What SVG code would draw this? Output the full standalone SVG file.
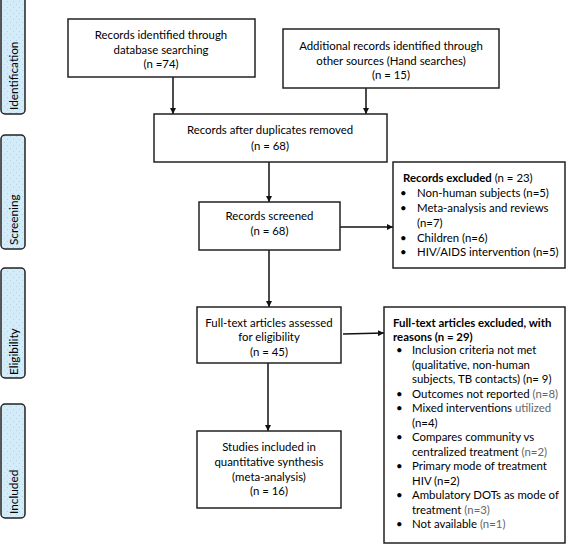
<svg xmlns="http://www.w3.org/2000/svg" width="567" height="547" viewBox="0 0 567 547">
<defs>
<style>
text{font-family:Lato,"Liberation Sans",sans-serif;font-size:11.4px;fill:#000}
.c{text-anchor:middle}
.b{font-weight:bold}
.g{fill:#666}
.box{fill:#fff;stroke:#222;stroke-width:1.5}
.tab{fill:url(#dots);stroke:#222;stroke-width:1.5}
.tt{font-size:11.8px}
.ln{stroke:#111;stroke-width:1.5;fill:none}
</style>
<pattern id="dots" width="6" height="6" patternUnits="userSpaceOnUse">
<rect width="6" height="6" fill="#d3ecfa"/>
<circle cx="1.5" cy="1.5" r="0.5" fill="#d9b8b8"/>
<circle cx="4.5" cy="4.5" r="0.5" fill="#b9c8d4"/>
</pattern>
<marker id="ah" viewBox="0 0 10 10" refX="10" refY="5" markerWidth="6" markerHeight="6" orient="auto" markerUnits="userSpaceOnUse">
<path d="M0,0 L10,5 L0,10 z" fill="#111"/>
</marker>
</defs>

<g id="tab-identification">
<rect class="tab" x="1" y="-6" width="24" height="120" rx="4"/>
<text class="tt" transform="translate(18,110) rotate(-90)">Identification</text>
</g>
<g id="tab-screening">
<rect class="tab" x="1" y="135" width="24" height="114" rx="4"/>
<text class="tt" transform="translate(18,245) rotate(-90)">Screening</text>
</g>
<g id="tab-eligibility">
<rect class="tab" x="1" y="268" width="24" height="110" rx="4"/>
<text class="tt" transform="translate(18,375) rotate(-90)">Eligibility</text>
</g>
<g id="tab-included">
<rect class="tab" x="1" y="404" width="24" height="114" rx="4"/>
<text class="tt" transform="translate(18,514) rotate(-90)">Included</text>
</g>

<g id="connectors">
<line class="ln" x1="173" y1="77" x2="173" y2="114" marker-end="url(#ah)"/>
<line class="ln" x1="366" y1="88" x2="366" y2="114" marker-end="url(#ah)"/>
<line class="ln" x1="269" y1="162" x2="269" y2="202" marker-end="url(#ah)"/>
<line class="ln" x1="340" y1="227" x2="393" y2="227" marker-end="url(#ah)"/>
<line class="ln" x1="269" y1="250" x2="269" y2="307" marker-end="url(#ah)"/>
<line class="ln" x1="343" y1="334" x2="384" y2="333" marker-end="url(#ah)"/>
<line class="ln" x1="268" y1="363" x2="268" y2="431" marker-end="url(#ah)"/>
</g>

<g id="n-db">
<rect class="box" x="68" y="19" width="187" height="58"/>
<text class="c" x="161" y="39">Records identified through</text>
<text class="c" x="161" y="54">database searching</text>
<text class="c" x="161" y="68">(n =74)</text>
</g>
<g id="n-other">
<rect class="box" x="283" y="29" width="216" height="59"/>
<text class="c" x="391" y="50">Additional records identified through</text>
<text class="c" x="391" y="65">other sources (Hand searches)</text>
<text class="c" x="391" y="79">(n = 15)</text>
</g>
<g id="n-dup">
<rect class="box" x="154" y="114" width="233" height="48"/>
<text class="c" x="270" y="134">Records after duplicates removed</text>
<text class="c" x="270" y="150">(n = 68)</text>
</g>
<g id="n-screened">
<rect class="box" x="199" y="202" width="141" height="48"/>
<text class="c" x="269.5" y="220">Records screened</text>
<text class="c" x="269.5" y="235">(n = 68)</text>
</g>
<g id="n-excl1">
<rect class="box" x="393" y="162" width="172" height="106"/>
<text x="403" y="182"><tspan class="b">Records excluded</tspan> (n = 23)</text>
<text x="400" y="197">•</text><text x="417" y="197">Non-human subjects (n=5)</text>
<text x="400" y="212">•</text><text x="417" y="212">Meta-analysis and reviews</text>
<text x="417" y="227">(n=7)</text>
<text x="400" y="242">•</text><text x="417" y="242">Children (n=6)</text>
<text x="400" y="256">•</text><text x="417" y="256">HIV/AIDS intervention  (n=5)</text>
</g>
<g id="n-fulltext">
<rect class="box" x="197" y="307" width="144" height="56"/>
<text class="c" x="269" y="327">Full-text articles assessed</text>
<text class="c" x="269" y="341">for eligibility</text>
<text class="c" x="269" y="356">(n = 45)</text>
</g>
<g id="n-excl2">
<rect class="box" x="384" y="307" width="181" height="236"/>
<text class="b" x="393" y="327">Full-text articles excluded, with</text>
<text class="b" x="393" y="341">reasons (n = 29)</text>
<text x="396" y="354">•</text><text x="412" y="354">Inclusion criteria not met</text>
<text x="412" y="368.5">(qualitative, non-human</text>
<text x="412" y="383">subjects, TB contacts) (n= 9)</text>
<text x="396" y="397.5">•</text><text x="412" y="397.5">Outcomes not reported <tspan class="g">(n=8)</tspan></text>
<text x="396" y="412">•</text><text x="412" y="412">Mixed interventions <tspan class="g">utilized</tspan></text>
<text x="412" y="426.5">(n=4)</text>
<text x="396" y="441">•</text><text x="412" y="441">Compares community vs</text>
<text x="412" y="455.5">centralized treatment <tspan class="g">(n=2)</tspan></text>
<text x="396" y="470">•</text><text x="412" y="470">Primary mode of treatment</text>
<text x="412" y="484.5">HIV (n=2)</text>
<text x="396" y="499">•</text><text x="412" y="499">Ambulatory DOTs as mode of</text>
<text x="412" y="513.5">treatment <tspan class="g">(n=3)</tspan></text>
<text x="396" y="528">•</text><text x="412" y="528">Not available <tspan class="g">(n=1)</tspan></text>
</g>
<g id="n-included">
<rect class="box" x="197" y="431" width="144" height="77"/>
<text class="c" x="269" y="451">Studies included in</text>
<text class="c" x="269" y="466">quantitative synthesis</text>
<text class="c" x="269" y="481">(meta-analysis)</text>
<text class="c" x="269" y="495">(n = 16)</text>
</g>
</svg>
